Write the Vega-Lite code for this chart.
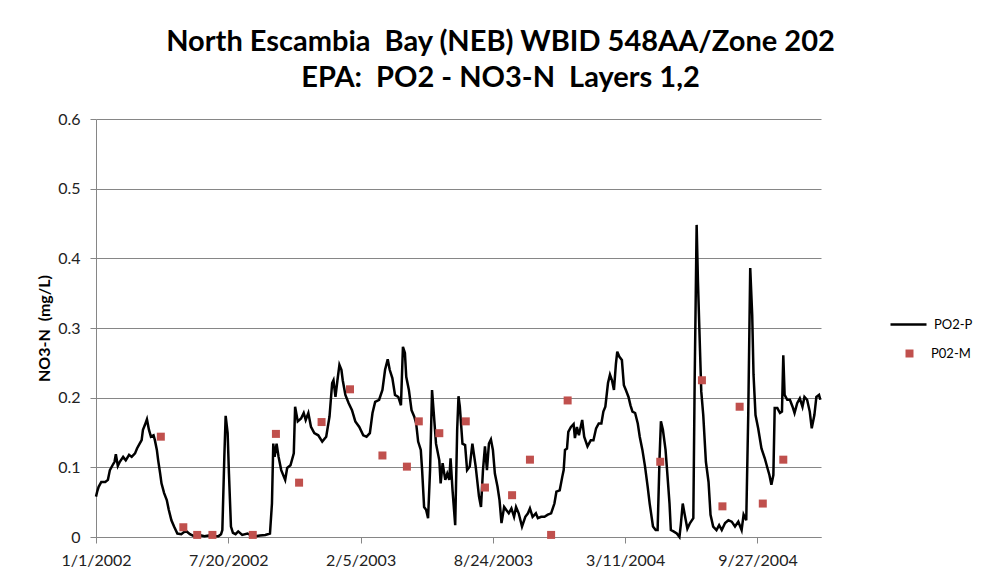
{
  "$schema": "https://vega.github.io/schema/vega-lite/v6.json",
  "width": 725,
  "height": 418,
  "autosize": "none",
  "padding": {"left": 96, "top": 119, "right": 168, "bottom": 43},
  "background": "white",
  "config": {"font": "Lato", "view": {"stroke": null}},
  "title": {
    "text": ["North Escambia \u00a0Bay (NEB) WBID 548AA/Zone 202", "EPA: \u00a0PO2 - NO3-N \u00a0Layers 1,2"],
    "font": "Lato", "fontSize": 29, "fontWeight": "bold", "color": "black",
    "anchor": "middle", "dx": 42, "offset": 18, "lineHeight": 36
  },
  "datasets": {
    "model": [
      {"day":0,"no3":0.058},{"day":2,"no3":0.066},{"day":4,"no3":0.072},{"day":8,"no3":0.079},{"day":14,"no3":0.079},{"day":18,"no3":0.082},{"day":21,"no3":0.096},{"day":25,"no3":0.103},{"day":28,"no3":0.108},{"day":30,"no3":0.119},{"day":33,"no3":0.102},{"day":36,"no3":0.108},{"day":41,"no3":0.115},{"day":45,"no3":0.110},{"day":50,"no3":0.118},{"day":54,"no3":0.115},{"day":59,"no3":0.120},{"day":62,"no3":0.127},{"day":66,"no3":0.134},{"day":69,"no3":0.139},{"day":71,"no3":0.154},{"day":74,"no3":0.161},{"day":77,"no3":0.169},{"day":80,"no3":0.154},{"day":83,"no3":0.144},{"day":87,"no3":0.146},{"day":89,"no3":0.139},{"day":92,"no3":0.125},{"day":94,"no3":0.110},{"day":97,"no3":0.091},{"day":99,"no3":0.077},{"day":103,"no3":0.063},{"day":107,"no3":0.053},{"day":110,"no3":0.039},{"day":114,"no3":0.024},{"day":118,"no3":0.015},{"day":123,"no3":0.005},{"day":129,"no3":0.004},{"day":133,"no3":0.007},{"day":137,"no3":0.008},{"day":142,"no3":0.004},{"day":149,"no3":0.001},{"day":155,"no3":0.003},{"day":164,"no3":0.001},{"day":170,"no3":0.002},{"day":178,"no3":0.001},{"day":185,"no3":0.001},{"day":189,"no3":0.004},{"day":191,"no3":0.010},{"day":194,"no3":0.115},{"day":196,"no3":0.174},{"day":199,"no3":0.149},{"day":201,"no3":0.091},{"day":204,"no3":0.015},{"day":207,"no3":0.006},{"day":211,"no3":0.004},{"day":215,"no3":0.008},{"day":221,"no3":0.003},{"day":229,"no3":0.005},{"day":235,"no3":0.002},{"day":241,"no3":0.001},{"day":248,"no3":0.002},{"day":256,"no3":0.003},{"day":263,"no3":0.005},{"day":266,"no3":0.048},{"day":268,"no3":0.134},{"day":270,"no3":0.115},{"day":273,"no3":0.134},{"day":276,"no3":0.115},{"day":280,"no3":0.096},{"day":286,"no3":0.082},{"day":289,"no3":0.099},{"day":294,"no3":0.103},{"day":299,"no3":0.120},{"day":301,"no3":0.187},{"day":305,"no3":0.166},{"day":310,"no3":0.170},{"day":314,"no3":0.178},{"day":317,"no3":0.168},{"day":321,"no3":0.178},{"day":325,"no3":0.158},{"day":330,"no3":0.149},{"day":336,"no3":0.146},{"day":342,"no3":0.137},{"day":348,"no3":0.144},{"day":353,"no3":0.173},{"day":357,"no3":0.221},{"day":359,"no3":0.225},{"day":362,"no3":0.201},{"day":365,"no3":0.225},{"day":368,"no3":0.247},{"day":371,"no3":0.240},{"day":373,"no3":0.225},{"day":377,"no3":0.204},{"day":382,"no3":0.192},{"day":387,"no3":0.182},{"day":392,"no3":0.166},{"day":398,"no3":0.158},{"day":404,"no3":0.146},{"day":409,"no3":0.144},{"day":414,"no3":0.149},{"day":418,"no3":0.178},{"day":422,"no3":0.194},{"day":428,"no3":0.197},{"day":433,"no3":0.211},{"day":437,"no3":0.240},{"day":441,"no3":0.255},{"day":444,"no3":0.240},{"day":448,"no3":0.228},{"day":452,"no3":0.204},{"day":457,"no3":0.201},{"day":461,"no3":0.189},{"day":464,"no3":0.273},{"day":467,"no3":0.264},{"day":469,"no3":0.230},{"day":473,"no3":0.211},{"day":477,"no3":0.182},{"day":481,"no3":0.173},{"day":484,"no3":0.163},{"day":487,"no3":0.137},{"day":491,"no3":0.125},{"day":493,"no3":0.096},{"day":496,"no3":0.043},{"day":499,"no3":0.039},{"day":502,"no3":0.027},{"day":505,"no3":0.096},{"day":508,"no3":0.211},{"day":511,"no3":0.173},{"day":514,"no3":0.134},{"day":519,"no3":0.110},{"day":521,"no3":0.077},{"day":524,"no3":0.106},{"day":528,"no3":0.082},{"day":531,"no3":0.091},{"day":534,"no3":0.082},{"day":536,"no3":0.113},{"day":539,"no3":0.067},{"day":543,"no3":0.017},{"day":546,"no3":0.154},{"day":548,"no3":0.202},{"day":550,"no3":0.187},{"day":554,"no3":0.134},{"day":558,"no3":0.132},{"day":561,"no3":0.096},{"day":565,"no3":0.101},{"day":569,"no3":0.134},{"day":574,"no3":0.101},{"day":579,"no3":0.058},{"day":582,"no3":0.043},{"day":585,"no3":0.096},{"day":588,"no3":0.130},{"day":591,"no3":0.096},{"day":594,"no3":0.134},{"day":597,"no3":0.140},{"day":600,"no3":0.125},{"day":603,"no3":0.091},{"day":607,"no3":0.072},{"day":610,"no3":0.053},{"day":613,"no3":0.020},{"day":617,"no3":0.043},{"day":620,"no3":0.039},{"day":624,"no3":0.034},{"day":628,"no3":0.041},{"day":632,"no3":0.029},{"day":635,"no3":0.043},{"day":639,"no3":0.034},{"day":644,"no3":0.015},{"day":649,"no3":0.029},{"day":653,"no3":0.034},{"day":656,"no3":0.041},{"day":660,"no3":0.029},{"day":665,"no3":0.034},{"day":668,"no3":0.027},{"day":673,"no3":0.029},{"day":678,"no3":0.029},{"day":683,"no3":0.032},{"day":688,"no3":0.034},{"day":693,"no3":0.048},{"day":696,"no3":0.065},{"day":701,"no3":0.067},{"day":705,"no3":0.087},{"day":707,"no3":0.096},{"day":709,"no3":0.125},{"day":712,"no3":0.127},{"day":714,"no3":0.151},{"day":718,"no3":0.158},{"day":722,"no3":0.162},{"day":724,"no3":0.142},{"day":727,"no3":0.158},{"day":730,"no3":0.146},{"day":735,"no3":0.168},{"day":738,"no3":0.144},{"day":743,"no3":0.130},{"day":748,"no3":0.139},{"day":752,"no3":0.139},{"day":756,"no3":0.156},{"day":760,"no3":0.163},{"day":764,"no3":0.163},{"day":767,"no3":0.180},{"day":770,"no3":0.187},{"day":774,"no3":0.221},{"day":777,"no3":0.233},{"day":780,"no3":0.225},{"day":783,"no3":0.211},{"day":786,"no3":0.249},{"day":788,"no3":0.266},{"day":791,"no3":0.259},{"day":795,"no3":0.254},{"day":798,"no3":0.218},{"day":801,"no3":0.211},{"day":805,"no3":0.201},{"day":808,"no3":0.189},{"day":811,"no3":0.180},{"day":815,"no3":0.178},{"day":819,"no3":0.163},{"day":822,"no3":0.144},{"day":826,"no3":0.125},{"day":830,"no3":0.101},{"day":834,"no3":0.072},{"day":837,"no3":0.048},{"day":842,"no3":0.015},{"day":846,"no3":0.010},{"day":849,"no3":0.010},{"day":852,"no3":0.115},{"day":854,"no3":0.166},{"day":857,"no3":0.154},{"day":861,"no3":0.125},{"day":864,"no3":0.087},{"day":867,"no3":0.048},{"day":869,"no3":0.010},{"day":873,"no3":0.008},{"day":878,"no3":0.005},{"day":882,"no3":0.000},{"day":884,"no3":0.017},{"day":887,"no3":0.048},{"day":890,"no3":0.032},{"day":894,"no3":0.012},{"day":898,"no3":0.020},{"day":903,"no3":0.027},{"day":905,"no3":0.223},{"day":908,"no3":0.448},{"day":910,"no3":0.366},{"day":913,"no3":0.271},{"day":915,"no3":0.209},{"day":918,"no3":0.175},{"day":922,"no3":0.108},{"day":926,"no3":0.079},{"day":929,"no3":0.032},{"day":933,"no3":0.015},{"day":938,"no3":0.010},{"day":942,"no3":0.017},{"day":946,"no3":0.010},{"day":951,"no3":0.020},{"day":956,"no3":0.024},{"day":961,"no3":0.022},{"day":966,"no3":0.015},{"day":971,"no3":0.022},{"day":976,"no3":0.010},{"day":979,"no3":0.032},{"day":983,"no3":0.024},{"day":986,"no3":0.175},{"day":989,"no3":0.386},{"day":992,"no3":0.319},{"day":994,"no3":0.233},{"day":997,"no3":0.175},{"day":1001,"no3":0.156},{"day":1006,"no3":0.127},{"day":1011,"no3":0.113},{"day":1015,"no3":0.099},{"day":1018,"no3":0.089},{"day":1021,"no3":0.075},{"day":1024,"no3":0.089},{"day":1026,"no3":0.185},{"day":1030,"no3":0.185},{"day":1034,"no3":0.178},{"day":1037,"no3":0.180},{"day":1039,"no3":0.261},{"day":1041,"no3":0.204},{"day":1045,"no3":0.197},{"day":1049,"no3":0.197},{"day":1053,"no3":0.187},{"day":1056,"no3":0.178},{"day":1060,"no3":0.192},{"day":1064,"no3":0.199},{"day":1068,"no3":0.187},{"day":1071,"no3":0.201},{"day":1075,"no3":0.197},{"day":1079,"no3":0.180},{"day":1082,"no3":0.156},{"day":1086,"no3":0.175},{"day":1089,"no3":0.201},{"day":1093,"no3":0.204},{"day":1095,"no3":0.197}
    ],
    "measured": [
      {"day":98,"no3":0.144},{"day":132,"no3":0.014},{"day":153,"no3":0.003},{"day":176,"no3":0.003},{"day":237,"no3":0.003},{"day":272,"no3":0.148},{"day":307,"no3":0.078},{"day":341,"no3":0.165},{"day":384,"no3":0.212},{"day":433,"no3":0.117},{"day":470,"no3":0.101},{"day":488,"no3":0.166},{"day":519,"no3":0.149},{"day":559,"no3":0.166},{"day":588,"no3":0.071},{"day":629,"no3":0.060},{"day":656,"no3":0.111},{"day":688,"no3":0.003},{"day":713,"no3":0.196},{"day":853,"no3":0.108},{"day":916,"no3":0.225},{"day":947,"no3":0.044},{"day":973,"no3":0.187},{"day":1008,"no3":0.048},{"day":1039,"no3":0.111}
    ]
  },
  "encoding": {
    "x": {
      "field": "day", "type": "quantitative",
      "scale": {"domain": [0, 1096], "nice": false, "zero": false},
      "axis": {
        "title": null, "values": [0, 200, 400, 600, 800, 1000],
        "labelExpr": "timeFormat(datetime(2002, 0, 1 + datum.value), '%-m/%-d/%Y')",
        "grid": false, "domainColor": "#868686", "tickColor": "#868686", "tickSize": 6,
        "labelFont": "Lato", "labelFontSize": 16, "labelColor": "#222222", "labelPadding": 9,
        "labelFlush": false, "labelOverlap": false
      }
    },
    "y": {
      "field": "no3", "type": "quantitative",
      "scale": {"domain": [0, 0.6], "nice": false},
      "axis": {
        "title": "NO3-N \u00a0(mg/L)", "titleFont": "Lato", "titleFontSize": 16, "titleFontWeight": "bold", "titleColor": "black", "titlePadding": 5,
        "values": [0, 0.1, 0.2, 0.3, 0.4, 0.5, 0.6], "format": ".1~f",
        "gridColor": "#868686", "domainColor": "#868686", "tickColor": "#868686", "tickSize": 6,
        "labelFont": "Lato", "labelFontSize": 16, "labelColor": "#222222", "labelPadding": 10
      }
    }
  },
  "resolve": {"scale": {"color": "independent"}, "legend": {"color": "independent"}},
  "layer": [
    {
      "data": {"name": "model"},
      "mark": {"type": "line", "strokeWidth": 2.5, "interpolate": "linear"},
      "encoding": {
        "color": {
          "datum": "PO2-P", "type": "nominal",
          "scale": {"domain": ["PO2-P"], "range": ["black"]},
          "legend": {
            "title": null, "orient": "none", "legendX": 793, "legendY": 186, "padding": 0,
            "symbolType": "stroke", "symbolSize": 1296, "symbolStrokeWidth": 2.5, "labelOffset": 6,
            "labelFont": "Lato", "labelFontSize": 13, "labelColor": "black"
          }
        }
      }
    },
    {
      "data": {"name": "measured"},
      "mark": {"type": "square", "size": 64, "filled": true, "opacity": 1},
      "encoding": {
        "color": {
          "datum": "P02-M", "type": "nominal",
          "scale": {"domain": ["P02-M"], "range": ["#C0504D"]},
          "legend": {
            "title": null, "orient": "none", "legendX": 807, "legendY": 228, "padding": 0,
            "symbolType": "square", "symbolSize": 64, "symbolOpacity": 1, "labelOffset": 15,
            "labelFont": "Lato", "labelFontSize": 13, "labelColor": "black"
          }
        }
      }
    }
  ]
}
